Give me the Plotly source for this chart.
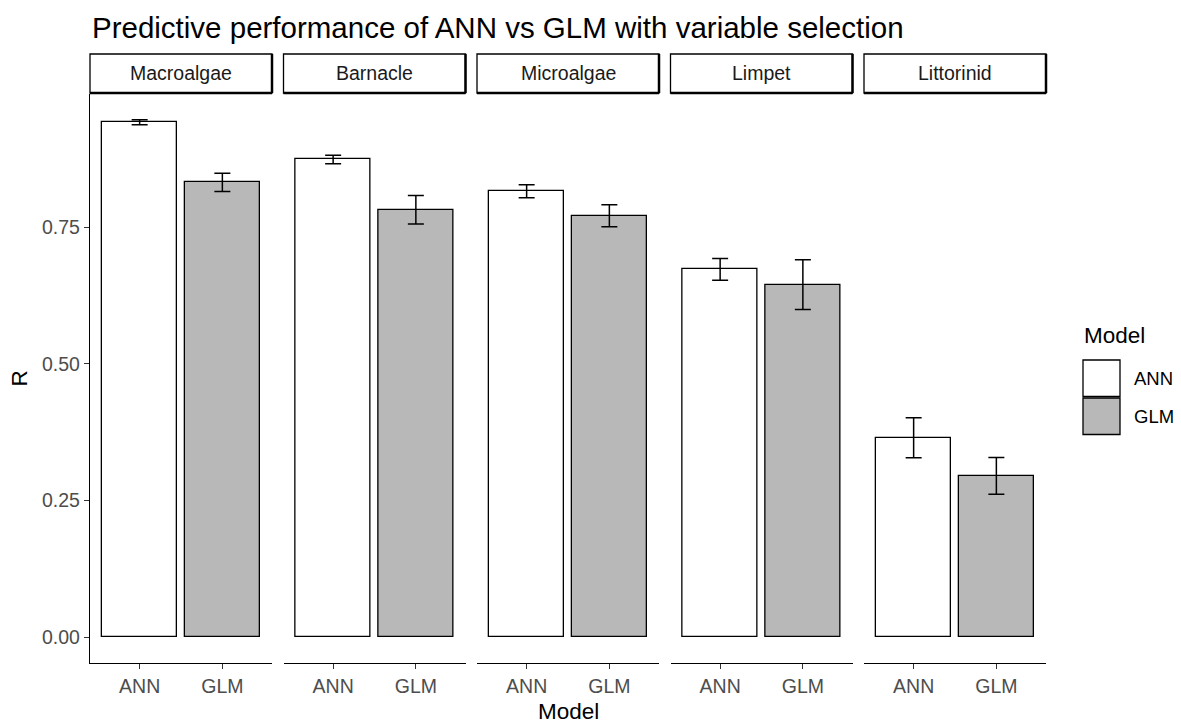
import plotly.graph_objects as go

# Mean correlation (R) and standard error per taxon and model
species = ["Macroalgae", "Barnacle", "Microalgae", "Limpet", "Littorinid"]
models = ["ANN", "GLM"]
ann_r = [0.942, 0.874, 0.816, 0.673, 0.365]
ann_se = [0.0045, 0.0077, 0.012, 0.020, 0.0366]
glm_r = [0.832, 0.782, 0.771, 0.645, 0.295]
glm_se = [0.0167, 0.026, 0.020, 0.0457, 0.0335]
y_ticks = [0.0, 0.25, 0.50, 0.75]
y_tick_text = ["0.00", "0.25", "0.50", "0.75"]

fill = {"ANN": "#FFFFFF", "GLM": "#B8B8B8"}
FONT = "Liberation Sans, Arial, sans-serif"
TICK_GREY = "#4D4D4D"

W, H = 1181, 724
panel_left0 = 90.0
panel_w = 182.0
panel_step = 193.5
panel_top, panel_bot = 94.0, 663.0
strip_top, strip_bot = 54.0, 93.0

def px(x):
    return x / W

def py(y):
    return 1 - y / H

# Shared y range with 5% padding, computed from the error-bar extent
y_hi = max(max(a + s for a, s in zip(ann_r, ann_se)), max(g + s for g, s in zip(glm_r, glm_se)))
y_lo = 0.0
pad = 0.05 * (y_hi - y_lo)
y_range = [y_lo - pad, y_hi + pad]

fig = go.Figure()
shapes = []
annotations = []

for i, sp in enumerate(species):
    n = i + 1
    xa = "x" if n == 1 else f"x{n}"
    ya = "y" if n == 1 else f"y{n}"
    left = panel_left0 + i * panel_step
    right = left + panel_w

    fig.add_trace(go.Bar(
        x=models,
        y=[ann_r[i], glm_r[i]],
        width=0.9,
        marker=dict(color=[fill[m] for m in models], line=dict(color="black", width=1.3)),
        error_y=dict(type="data", array=[ann_se[i], glm_se[i]], visible=True,
                     color="black", thickness=1.5, width=8),
        xaxis=xa, yaxis=ya, showlegend=False, hoverinfo="skip",
    ))

    xkey = "xaxis" if n == 1 else f"xaxis{n}"
    ykey = "yaxis" if n == 1 else f"yaxis{n}"
    fig.layout[xkey] = dict(
        domain=[px(left), px(right)], anchor=ya,
        type="category", range=[-0.6, 1.6],
        showline=True, linecolor="black", linewidth=1.3,
        ticks="outside", ticklen=5, tickwidth=1.2, tickcolor="#333333",
        tickfont=dict(family=FONT, size=19.5, color=TICK_GREY),
        showgrid=False, zeroline=False, fixedrange=True,
    )
    yaxis = dict(
        domain=[py(panel_bot), py(panel_top)], anchor=xa,
        range=y_range, showgrid=False, zeroline=False, fixedrange=True,
    )
    if n == 1:
        yaxis.update(
            showline=True, linecolor="black", linewidth=1.3,
            ticks="outside", ticklen=5, tickwidth=1.2, tickcolor="#333333",
            tickvals=y_ticks, ticktext=y_tick_text,
            tickfont=dict(family=FONT, size=19.5, color=TICK_GREY),
        )
    else:
        yaxis.update(showline=False, showticklabels=False, ticks="")
    fig.layout[ykey] = yaxis

    # Facet strip
    shapes.append(dict(type="rect", xref="paper", yref="paper",
                       x0=px(left), x1=px(right), y0=py(strip_bot), y1=py(strip_top),
                       line=dict(color="black", width=1.3), fillcolor="white", layer="above"))
    shapes.append(dict(type="line", xref="paper", yref="paper",
                       x0=px(right), x1=px(right), y0=py(strip_bot), y1=py(strip_top),
                       line=dict(color="black", width=2.5)))
    shapes.append(dict(type="line", xref="paper", yref="paper",
                       x0=px(left), x1=px(right), y0=py(strip_bot), y1=py(strip_bot),
                       line=dict(color="black", width=2.5)))
    annotations.append(dict(text=sp, xref="paper", yref="paper",
                            x=px((left + right) / 2), y=py((strip_top + strip_bot) / 2),
                            xanchor="center", yanchor="middle", showarrow=False,
                            font=dict(family=FONT, size=19.5, color="#1A1A1A")))

panels_mid = (panel_left0 + panel_left0 + 4 * panel_step + panel_w) / 2

# Title and axis titles
annotations.append(dict(text="Predictive performance of ANN vs GLM with variable selection",
                        xref="paper", yref="paper", x=px(90), y=py(27),
                        xanchor="left", yanchor="middle", showarrow=False,
                        font=dict(family=FONT, size=29.5, color="black")))
annotations.append(dict(text="Model", xref="paper", yref="paper",
                        x=px(panels_mid), y=py(711), xanchor="center", yanchor="middle",
                        showarrow=False, font=dict(family=FONT, size=22.5, color="black")))
annotations.append(dict(text="R", xref="paper", yref="paper",
                        x=px(19), y=py((panel_top + panel_bot) / 2), xanchor="center",
                        yanchor="middle", textangle=-90, showarrow=False,
                        font=dict(family=FONT, size=22.5, color="black")))

# Legend drawn as keys + labels
annotations.append(dict(text="Model", xref="paper", yref="paper",
                        x=px(1082), y=py(336), xanchor="left", yanchor="middle",
                        showarrow=False, font=dict(family=FONT, size=22.5, color="black")))
key_top = 360.0
key_h = 36.5
for j, m in enumerate(models):
    t = key_top + j * (key_h + 1.5)
    shapes.append(dict(type="rect", xref="paper", yref="paper",
                       x0=px(1083), x1=px(1120), y0=py(t + key_h), y1=py(t),
                       line=dict(color="black", width=1.3), fillcolor=fill[m]))
    annotations.append(dict(text=m, xref="paper", yref="paper",
                            x=px(1132), y=py(t + key_h / 2), xanchor="left", yanchor="middle",
                            showarrow=False, font=dict(family=FONT, size=18.5, color="black")))

fig.update_layout(
    width=W, height=H,
    margin=dict(l=0, r=0, t=0, b=0),
    paper_bgcolor="white", plot_bgcolor="white",
    bargap=0, shapes=shapes, annotations=annotations,
    font=dict(family=FONT),
)

fig.write_html("out.html")
